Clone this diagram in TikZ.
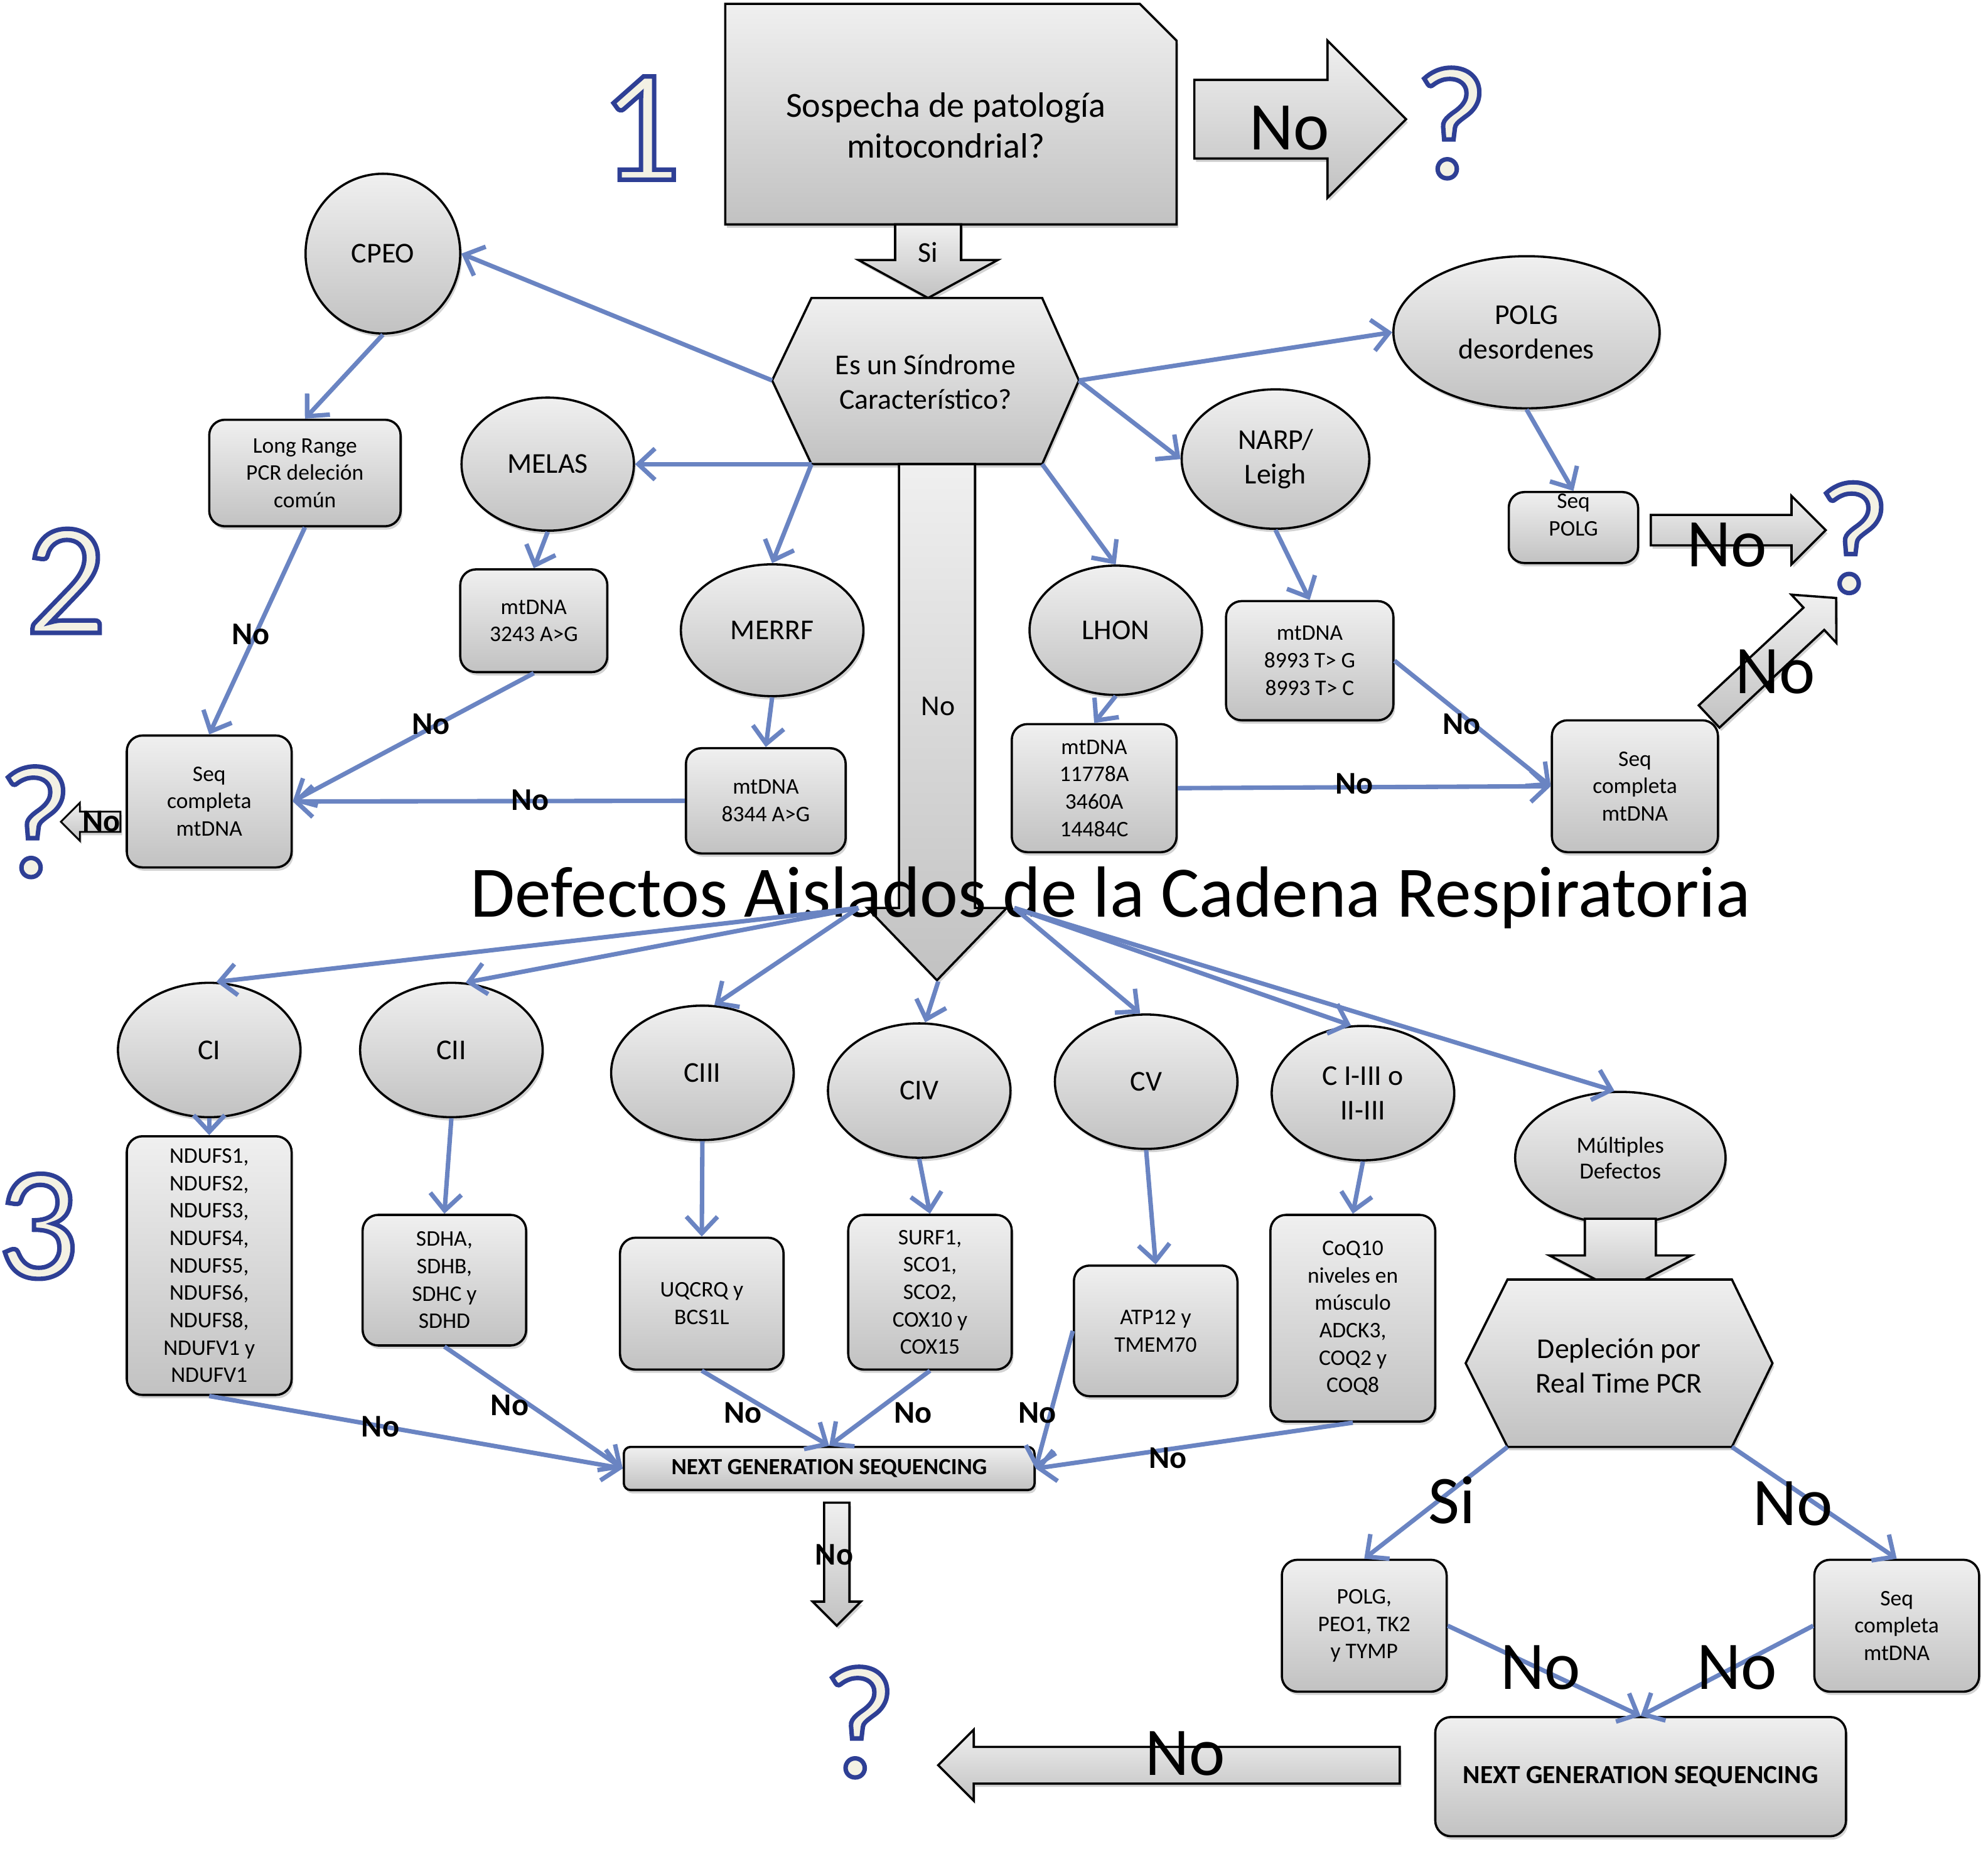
\documentclass[tikz,border=0pt]{standalone}
\usepackage{fontspec}
\setmainfont{Carlito}
\usetikzlibrary{calc,shapes.geometric,shadows,arrows.meta}
\definecolor{linkblue}{HTML}{6A84C2}
\definecolor{numblue}{HTML}{2E3F95}
\definecolor{numcream}{HTML}{F3F1E4}
\newcommand\fbig{\fontsize{15.8}{18.4}\selectfont}
\newcommand\fnode{\fontsize{12.9}{15.4}\selectfont}
\newcommand\fsmall{\fontsize{10}{12.3}\selectfont}
\newcommand\fno{\bfseries\fontsize{14.2}{14.2}\selectfont}
\newcommand\fhuge{\fontsize{30.6}{30.6}\selectfont}
\newcommand\ftitle{\fontsize{32.5}{32.5}\selectfont}
\newcommand\fnum{\fontsize{72}{72}\selectfont}
% outlined glyphs: fill cream, stroke dark blue
\newcommand\outl[1]{\special{pdf:literal direct q 2 Tr 2.0 w 0.180 0.247 0.584 RG}#1\special{pdf:literal direct Q}}
\def\blockarrow[#1](#2)(#3:#4:#5:#6:#7){\draw[#1] ($(#2)+(#3+90:#5)$) -- ($(#2)+(#3:#4-#7)+(#3+90:#5)$) -- ($(#2)+(#3:#4-#7)+(#3+90:#6)$) -- ($(#2)+(#3:#4)$) -- ($(#2)+(#3:#4-#7)+(#3-90:#6)$) -- ($(#2)+(#3:#4-#7)+(#3-90:#5)$) -- ($(#2)+(#3-90:#5)$) -- cycle;}

\begin{document}
\begin{tikzpicture}[x=0.02cm,y=-0.02cm,
	grayfill/.style={draw=black,line width=1pt,top color=gray!12,bottom color=gray!48,drop shadow={shadow xshift=0.8pt,shadow yshift=-1.5pt,opacity=0.35}},
	gbox/.style={grayfill,rectangle,rounded corners=7pt,align=center,inner sep=1pt,font=\fsmall},
	gell/.style={grayfill,ellipse,align=center,inner sep=0pt,font=\fnode},
	link/.style={draw=linkblue,line width=2pt,-{Straight Barb[length=7.5pt,width=14pt]}},
	nolab/.style={font=\fno},
	biglab/.style={font=\fhuge},
	bignum/.style={text=numcream,font=\fnum,inner sep=0pt}]
			\useasboundingbox (0,0) rectangle (1568,1458);
			%%%%% NIVEL 1 %%%%%
			\draw[grayfill] (572,3) -- (899,3) -- (928,32) -- (928,177) -- (572,177) -- cycle;
			\node[font=\fbig,align=center] (sosp) at (746,99) {Sospecha de patología\\mitocondrial?};
			\blockarrow[grayfill](942,94)(0:167:31:62:62)
			\node[biglab] (no1) at (1017,101) {No};
			\node[bignum] (q1) at (1145,97) {\outl{?}};
			\node[bignum] (n1) at (505,101) {\outl{1}};
			\blockarrow[grayfill](732,177)(90:58:26:55:30)
			\node[font=\fnode] (si1) at (732,199) {Si};
			
			\draw[grayfill] (640,235) -- (822,235) -- (851,300) -- (822,366) -- (640,366) -- (609,300) -- cycle;
			\node[font=\fnode,align=center] (sind) at (730,301) {Es un Síndrome\\Característico?};
			\coordinate (sindL) at (609,300);
			\coordinate (sindR) at (851,300);
			\coordinate (sindBL) at (640,366);
			\coordinate (sindBR) at (822,366);
			
			\blockarrow[grayfill](739,366)(90:407:30:55:57)
			\node[font=\fnode] (nodown) at (740,557) {No};
			\node[font=\ftitle] (defectos) at (876,708) {Defectos Aislados de la Cadena Respiratoria};
			\coordinate (hubL) at (677,716);
			\coordinate (hubR) at (800,716);
			\coordinate (tipdown) at (740,774);
			
			%%%%% NIVEL 2 %%%%%
			\node[bignum] (n2) at (52,458) {\outl{2}};
			\node[gell,minimum width=2.44cm,minimum height=2.52cm] (cpeo) at (302,200) {CPEO};
			\node[gbox,minimum width=3.02cm,minimum height=1.68cm] (lr) at (240.5,373) {Long Range\\PCR deleción\\común};
			\node[gell,minimum width=2.72cm,minimum height=2.1cm] (melas) at (432,366) {MELAS};
			\node[gbox,minimum width=2.32cm,minimum height=1.62cm] (m3243) at (421,489.5) {mtDNA\\3243 A>G};
			\node[gell,minimum width=2.88cm,minimum height=2.08cm] (merrf) at (609,497) {MERRF};
			\node[gbox,minimum width=2.52cm,minimum height=1.66cm] (m8344) at (604,631.5) {mtDNA\\8344 A>G};
			\node[gbox,minimum width=2.6cm,minimum height=2.08cm] (seqL) at (165,632) {Seq\\completa\\mtDNA};
			\blockarrow[grayfill,line width=0.8pt](95,648)(180:47:8:15:15)
			\node[nolab] (noL) at (80,648) {No};
			\node[bignum] (q3) at (28,648) {\outl{?}};
			
			\node[gell,minimum width=4.2cm,minimum height=2.4cm] (polg) at (1204,262) {POLG\\desordenes};
			\node[gbox,minimum width=2.04cm,minimum height=1.12cm,label={[font=\fsmall,align=center,yshift=0.2cm]center:Seq\\POLG}] (seqpolg) at (1241,416) {};
			\blockarrow[grayfill](1302,418)(0:138:12:27:27)
			\node[biglab] (noP) at (1362,430) {No};
			\node[bignum] (q2) at (1462,424) {\outl{?}};
			\node[gell,minimum width=2.96cm,minimum height=2.2cm] (narp) at (1006,362) {NARP/\\Leigh};
			\node[gell,minimum width=2.72cm,minimum height=2.04cm] (lhon) at (880,497) {LHON};
			\node[gbox,minimum width=2.6cm,minimum height=2.02cm] (m11778) at (863,621.5) {mtDNA\\11778A\\3460A\\14484C};
			\node[gbox,minimum width=2.64cm,minimum height=1.88cm] (m8993) at (1033,521) {mtDNA\\8993 T> G\\8993 T> C};
			\node[gbox,minimum width=2.62cm,minimum height=2.08cm] (seqR) at (1289.5,620) {Seq\\completa\\mtDNA};
			\blockarrow[grayfill](1348,565)(-43:137:12:26:24)
			\node[biglab] (noD) at (1400,530) {No};
			
			%%%%% NIVEL 3 %%%%%
			\node[bignum] (n3) at (30,967) {\outl{3}};
			\node[gell,minimum width=2.88cm,minimum height=2.12cm] (ci) at (165,828) {CI};
			\node[gell,minimum width=2.88cm,minimum height=2.12cm] (cii) at (356,828) {CII};
			\node[gell,minimum width=2.88cm,minimum height=2.12cm] (ciii) at (554,846) {CIII};
			\node[gell,minimum width=2.88cm,minimum height=2.12cm] (civ) at (725,860) {CIV};
			\node[gell,minimum width=2.88cm,minimum height=2.12cm] (cv) at (904,853) {CV};
			\node[gell,minimum width=2.88cm,minimum height=2.12cm] (cmix) at (1075,862) {C I-III o\\II-III};
			\node[gell,minimum width=3.32cm,minimum height=2.08cm,font=\fontsize{10.3}{11.6}\selectfont] (mult) at (1278,913) {Múltiples\\Defectos};
			
			\node[gbox,minimum width=2.6cm,minimum height=4.08cm] (ndufs) at (165,998) {NDUFS1,\\NDUFS2,\\NDUFS3,\\NDUFS4,\\NDUFS5,\\NDUFS6,\\NDUFS8,\\NDUFV1 y\\NDUFV1};
			\node[gbox,minimum width=2.58cm,minimum height=2.06cm] (sdha) at (350.5,1009.5) {SDHA,\\SDHB,\\SDHC y\\SDHD};
			\node[gbox,minimum width=2.58cm,minimum height=2.08cm] (uqcrq) at (553.5,1028) {UQCRQ y\\BCS1L};
			\node[gbox,minimum width=2.58cm,minimum height=2.44cm] (surf) at (733.5,1019) {SURF1,\\SCO1,\\SCO2,\\COX10 y\\COX15};
			\node[gbox,minimum width=2.58cm,minimum height=2.06cm] (atp) at (911.5,1049.5) {ATP12 y\\TMEM70};
			\node[gbox,minimum width=2.6cm,minimum height=3.26cm] (coq) at (1067,1039.5) {CoQ10\\niveles en\\músculo\\ADCK3,\\COQ2 y\\COQ8};
			\node[gbox,rounded corners=3pt,minimum width=6.48cm,minimum height=0.68cm,font=\bfseries\fontsize{10.4}{10.4}\selectfont] (ngs1) at (654,1158) {NEXT GENERATION SEQUENCING};
			\blockarrow[grayfill](660,1185)(90:97:10:19:19)
			\node[nolab] (noNGS) at (658,1226) {No};
			\node[bignum] (q4) at (678,1358) {\outl{?}};
			
			\blockarrow[grayfill](1278,961)(90:58:28:56:29)
			\draw[grayfill] (1189,1009) -- (1366,1009) -- (1398,1075) -- (1366,1141) -- (1189,1141) -- (1156,1075) -- cycle;
			\node[font=\fnode,align=center] (depl) at (1277,1077) {Depleción por\\Real Time PCR};
			\coordinate (deplBL) at (1189,1141);
			\coordinate (deplBR) at (1366,1141);
			\node[gbox,minimum width=2.6cm,minimum height=2.08cm] (polgb) at (1076,1282) {POLG,\\PEO1, TK2\\y TYMP};
			\node[gbox,minimum width=2.6cm,minimum height=2.08cm] (seqB) at (1496,1282) {Seq\\completa\\mtDNA};
			\node[gbox,minimum width=6.48cm,minimum height=1.88cm,font=\bfseries\fontsize{11.7}{11.7}\selectfont] (ngs2) at (1294,1401) {NEXT GENERATION SEQUENCING};
			\blockarrow[grayfill](1104,1392)(180:364:14.5:28:28)
			\node[biglab] (noB) at (935,1383) {No};
			
			%%%%% CONECTORES %%%%%
			\draw[link] (sindL) -- (cpeo.east);
			\draw[link] (sindBL) -- (melas.east);
			\draw[link] (sindBL) -- (merrf.north);
			\draw[link] (sindR) -- (polg.west);
			\draw[link] (sindR) -- (narp.west);
			\draw[link] (sindBR) -- (lhon.north);
			\draw[link] (cpeo.south) -- (lr.north);
			\draw[link] (melas.south) -- (m3243.north);
			\draw[link] (merrf.south) -- (m8344.north);
			\draw[link] (lr.south) -- (seqL.north) node[nolab] at (198,500) {No};
			\draw[link] (m3243.south) -- (seqL.east) node[nolab] at (340,571) {No};
			\draw[link] (m8344.west) -- (seqL.east) node[nolab] at (418,631) {No};
			\draw[link] (polg.south) -- (seqpolg.north);
			\draw[link] (narp.south) -- (m8993.north);
			\draw[link] (lhon.south) -- (m11778.north);
			\draw[link] (m8993.east) -- (seqR.west) node[nolab] at (1153,571) {No};
			\draw[link] (m11778.east) -- (seqR.west) node[nolab] at (1068,618) {No};
			
			\draw[link] (hubL) -- (ci.84);
			\draw[link] (hubL) -- (cii.78);
			\draw[link] (hubL) -- (ciii.80);
			\draw[link] (tipdown) -- (civ.85);
			\draw[link] (hubR) -- (cv.95);
			\draw[link] (hubR) -- (cmix.100);
			\draw[link] (hubR) -- (mult.95);
			\draw[link] (ci.south) -- (ndufs.north);
			\draw[link] (cii.south) -- (sdha.north);
			\draw[link] (ciii.south) -- (uqcrq.north);
			\draw[link] (civ.south) -- (surf.north);
			\draw[link] (cv.south) -- (atp.north);
			\draw[link] (cmix.south) -- (coq.north);
			\draw[link] (ndufs.south) -- (ngs1.west) node[nolab] at (300,1125) {No};
			\draw[link] (sdha.south) -- (ngs1.west) node[nolab] at (402,1108) {No};
			\draw[link] (uqcrq.south) -- (ngs1.north) node[nolab] at (586,1114) {No};
			\draw[link] (surf.south) -- (ngs1.north) node[nolab] at (720,1114) {No};
			\draw[link] (atp.west) -- (ngs1.east) node[nolab] at (818,1114) {No};
			\draw[link] (coq.south) -- (ngs1.east) node[nolab] at (921,1150) {No};
			\draw[link] (deplBL) -- (polgb.north) node[biglab] at (1145,1183) {Si};
			\draw[link] (deplBR) -- (seqB.north) node[biglab] at (1414,1186) {No};
			\draw[link] (polgb.east) -- (ngs2.north) node[biglab] at (1215,1315) {No};
			\draw[link] (seqB.west) -- (ngs2.north) node[biglab] at (1370,1315) {No};
			%%%%% END %%%%%
\end{tikzpicture}
\end{document}
